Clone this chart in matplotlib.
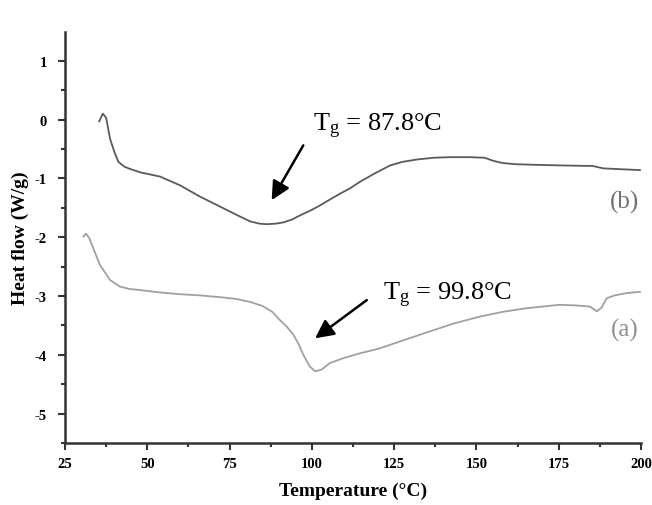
import numpy as np
import matplotlib
matplotlib.use("Agg")
import matplotlib.pyplot as plt

plt.rcParams['font.family'] = ['Liberation Serif', 'DejaVu Serif']
plt.rcParams['mathtext.fontset'] = 'custom'
plt.rcParams['mathtext.rm'] = 'Liberation Serif'
plt.rcParams['mathtext.it'] = 'Liberation Serif:italic'

# curve (b)
T_b = [35.4, 36.5, 37.5, 38.7, 40.0, 41.2, 43.0, 44.75, 48, 53.9, 60.0, 66.0, 72.1,
       78.2, 81.2, 84, 86.3, 89, 91.3, 94, 96.4, 99.5, 102.5, 105.5, 108.6, 111.6,
       114.6, 119, 123.8, 127.5, 131.9, 137, 142, 148, 152.5, 155, 158, 162, 168,
       175.4, 185.4, 188.5, 192, 196, 199.7]
H_b = [-0.03, 0.10, 0.03, -0.33, -0.55, -0.72, -0.80, -0.84, -0.90, -0.97, -1.12,
       -1.31, -1.48, -1.65, -1.73, -1.77, -1.78, -1.77, -1.75, -1.70, -1.63, -1.55,
       -1.46, -1.36, -1.26, -1.17, -1.06, -0.92, -0.78, -0.72, -0.68, -0.65, -0.64,
       -0.64, -0.65, -0.70, -0.74, -0.76, -0.77, -0.78, -0.79, -0.83, -0.84, -0.85,
       -0.86]

# curve (a)
T_a = [30.6, 31.4, 32.4, 33.6, 35.6, 38.7, 41.7, 44.5, 47.8, 53.9, 60, 66, 72, 77,
       81.2, 85, 88, 90.3, 92.5, 94.4, 96, 97.4, 99.4, 101, 103, 105.5, 110, 115,
       120.7, 128, 136, 143, 151.1, 158, 165, 170, 175.4, 180, 184.5, 186.6, 188,
       189.6, 192, 195.7, 199.7]
H_a = [-1.99, -1.94, -2.02, -2.19, -2.47, -2.73, -2.84, -2.88, -2.90, -2.94, -2.97,
       -2.99, -3.02, -3.05, -3.10, -3.17, -3.27, -3.41, -3.53, -3.66, -3.82, -4.00,
       -4.20, -4.28, -4.25, -4.14, -4.05, -3.97, -3.89, -3.75, -3.60, -3.47, -3.35,
       -3.27, -3.21, -3.18, -3.15, -3.16, -3.18, -3.26, -3.20, -3.04, -2.99, -2.95,
       -2.93]

x_ticks = [25, 50, 75, 100, 125, 150, 175, 200]
y_ticks = [-5, -4, -3, -2, -1, 0, 1]

fig = plt.figure(figsize=(6.52, 5.06), dpi=100)
ax = fig.add_axes([0.0997, 0.1225, 0.8833, 0.8125])

ax.plot(T_b, H_b, color='#5a5a5a', lw=1.3)
ax.plot(T_a, H_a, color='#a0a0a0', lw=1.3)

ax.set_xlim(25, 200)
ax.set_ylim(-5.47, 1.49)
ax.set_xticks(x_ticks)
ax.set_yticks(y_ticks)
ax.set_xticks(np.arange(37.5, 200, 25), minor=True)
ax.set_yticks(np.arange(-5.5, 1.5, 1.0), minor=True)
ax.set_xticklabels([str(v) for v in x_ticks], fontweight='bold', fontsize=10.5)
ax.set_yticklabels([str(v) for v in y_ticks], fontweight='bold', fontsize=10.5)
ax.tick_params(which='major', direction='out', length=5, width=1.5, color='#333333')
ax.tick_params(which='minor', direction='out', length=3, width=1.5, color='#333333')
ax.tick_params(axis='x', pad=5)
ax.tick_params(axis='y', pad=8)

for s in ['top', 'right']:
    ax.spines[s].set_visible(False)
for s in ['left', 'bottom']:
    ax.spines[s].set_linewidth(1.8)
    ax.spines[s].set_color('#333333')

ax.set_xlabel('Temperature (°C)', fontweight='bold', fontsize=14)
ax.set_ylabel('Heat flow (W/g)', fontweight='bold', fontsize=14)
ax.xaxis.set_label_coords(0.5, -0.095)
ax.yaxis.set_label_coords(-0.062, 0.5)

arrow = dict(arrowstyle='-|>', color='black', lw=1.8, mutation_scale=28,
             shrinkA=0, shrinkB=0)
ax.annotate('', xy=(87.8, -1.37), xytext=(97.4, -0.44), arrowprops=arrow)
ax.annotate('', xy=(101.0, -3.72), xytext=(116.7, -3.07), arrowprops=arrow)

ax.text(100.4, -0.1, r'$\mathrm{T_g}$ = 87.8°C', fontsize=19, va='center', ha='left')
ax.text(121.7, -2.98, r'$\mathrm{T_g}$ = 99.8°C', fontsize=19, va='center', ha='left')

ax.text(195, -1.4, '(b)', fontsize=18, color='#707070', ha='center', va='center')
ax.text(195, -3.57, '(a)', fontsize=18, color='#909090', ha='center', va='center')

fig.savefig('out.png', dpi=100)
